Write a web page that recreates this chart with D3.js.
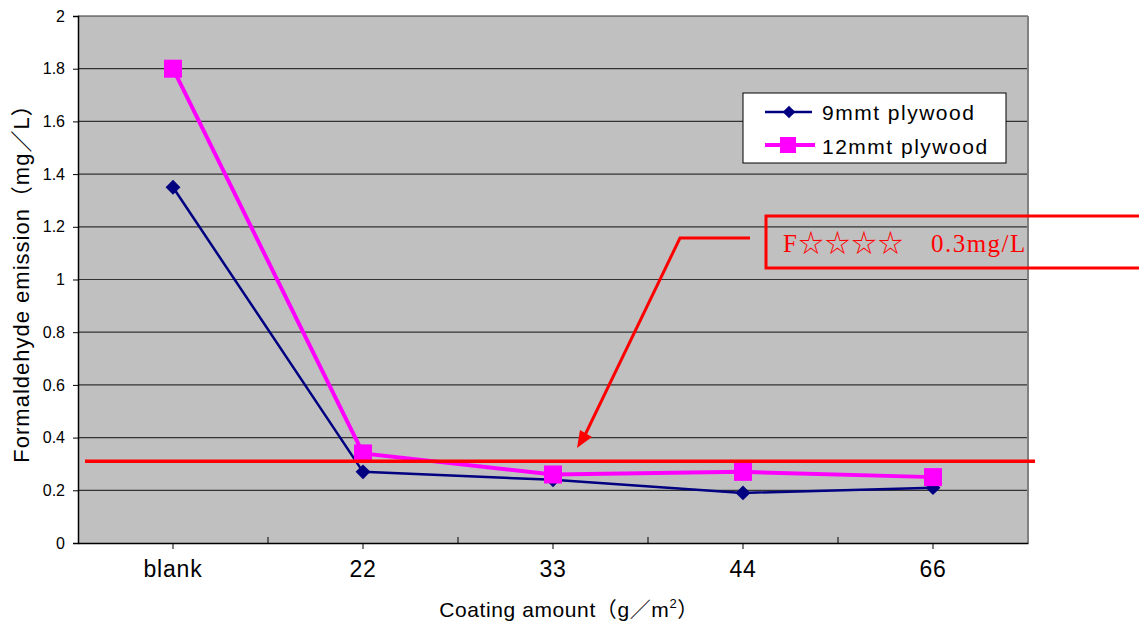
<!DOCTYPE html>
<html><head><meta charset="utf-8">
<script src="https://cdn.jsdelivr.net/npm/d3@7"></script>
<style>body{margin:0;background:#fff}svg{display:block}</style>
</head><body>
<svg id="c" width="1139" height="626"></svg>
<script>
const categories = ["blank","22","33","44","66"];
const series9 = [1.35,0.27,0.24,0.19,0.21];
const series12 = [1.80,0.34,0.26,0.27,0.25];
const yTicks = [0,0.2,0.4,0.6,0.8,1,1.2,1.4,1.6,1.8,2];
const limitValue = 0.31;
const seriesNames = ["9mmt plywood","12mmt plywood"];
const annotation = "F☆☆☆☆　0.3mg/L";

const svg = d3.select("#c");
const L=78,R=1028,T=16,B=543;
const x = d3.scaleBand().domain(categories).range([L,R]);
const y = d3.scaleLinear().domain([0,2]).range([B,T]);
const sans = "'Liberation Sans', Arial, 'Noto Sans CJK JP', sans-serif";

svg.append("rect").attr("x",L).attr("y",T).attr("width",R-L).attr("height",B-T).attr("fill","#c0c0c0");
svg.append("g").selectAll("line").data(yTicks.filter(d=>d>0)).join("line")
  .attr("x1",L).attr("x2",R).attr("y1",d=>y(d)).attr("y2",d=>y(d))
  .attr("stroke","#333").attr("stroke-width",1.2);
svg.append("line").attr("x1",R).attr("x2",R).attr("y1",T).attr("y2",B).attr("stroke","#808080").attr("stroke-width",2);

const ya = svg.append("g").attr("transform",`translate(${L},0)`)
  .call(d3.axisLeft(y).tickValues(yTicks).tickSize(5).tickFormat(d=>String(d)));
ya.select(".domain").attr("stroke","#000").attr("stroke-width",1.5);
ya.selectAll("text").attr("font-family",sans).attr("font-size",16).attr("fill","#000").attr("dx",-5);
const xa = svg.append("g").attr("transform",`translate(0,${B})`)
  .call(d3.axisBottom(x).tickSize(6).tickSizeOuter(0));
xa.select(".domain").attr("stroke","#000").attr("stroke-width",1.5);
xa.selectAll("text").attr("font-family",sans).attr("font-size",23).attr("letter-spacing",0.8).attr("fill","#000").attr("dy",25);
const bounds = categories.map(c=>x(c)).concat([R]).slice(1,-1);
svg.append("g").selectAll("line").data(bounds).join("line")
  .attr("x1",d=>d).attr("x2",d=>d).attr("y1",B).attr("y2",B-6).attr("stroke","#000");

svg.append("text").attr("transform","translate(29,278) rotate(-90)").attr("text-anchor","middle")
  .attr("font-family",sans).attr("font-size",22).attr("letter-spacing",1).text("Formaldehyde emission（mg／L）");
const xt = svg.append("text").attr("x",569).attr("y",617).attr("text-anchor","middle")
  .attr("font-family",sans).attr("font-size",21).attr("letter-spacing",0.6);
xt.append("tspan").text("Coating amount（g／m");
xt.append("tspan").attr("font-size",13).attr("dy",-9).text("2");
xt.append("tspan").attr("dy",9).text("）");

const cx = i => x(categories[i])+x.bandwidth()/2;
const line = d3.line().x((d,i)=>cx(i)).y(d=>y(d));
svg.append("path").datum(series9).attr("d",line).attr("fill","none").attr("stroke","#000080").attr("stroke-width",2.5);
svg.append("g").selectAll("path").data(series9).join("path")
  .attr("d",d3.symbol(d3.symbolSquare,110))
  .attr("transform",(d,i)=>`translate(${cx(i)},${y(d)}) rotate(45)`)
  .attr("fill","#000080");
svg.append("path").datum(series12).attr("d",line).attr("fill","none").attr("stroke","#ff00ff").attr("stroke-width",4);
svg.append("g").selectAll("rect").data(series12).join("rect")
  .attr("x",(d,i)=>cx(i)-9).attr("y",d=>y(d)-9)
  .attr("width",18).attr("height",18).attr("fill","#ff00ff");

svg.append("line").attr("x1",85).attr("x2",1035).attr("y1",y(limitValue)).attr("y2",y(limitValue))
  .attr("stroke","#ff0000").attr("stroke-width",3.5);

svg.append("polyline").attr("points","750,238 680,238 585,435").attr("fill","none").attr("stroke","#ff0000").attr("stroke-width",3);
svg.append("path").attr("d","M577,448 L580,430 L592,437 Z").attr("fill","#ff0000");
svg.append("rect").attr("x",766).attr("y",216).attr("width",400).attr("height",52).attr("fill","none").attr("stroke","#ff0000").attr("stroke-width",3);
svg.append("text").attr("x",783).attr("y",252).attr("fill","#ff0000")
  .attr("font-family","'Liberation Serif', 'Noto Sans CJK JP', serif").attr("font-size",25).attr("letter-spacing",1.5).text(annotation);

const lg = svg.append("g");
lg.append("rect").attr("x",743).attr("y",93).attr("width",263).attr("height",70).attr("fill","#fff").attr("stroke","#000").attr("stroke-width",1);
lg.append("line").attr("x1",765).attr("x2",812).attr("y1",112).attr("y2",112).attr("stroke","#000080").attr("stroke-width",2.5);
lg.append("path").attr("d",d3.symbol(d3.symbolSquare,80)).attr("transform","translate(789,112) rotate(45)").attr("fill","#000080");
lg.append("line").attr("x1",765).attr("x2",815).attr("y1",145).attr("y2",145).attr("stroke","#ff00ff").attr("stroke-width",4);
lg.append("rect").attr("x",780).attr("y",137).attr("width",16).attr("height",16).attr("fill","#ff00ff");
lg.append("text").attr("x",822).attr("y",120).attr("font-family",sans).attr("font-size",21).attr("letter-spacing",1.5).text(seriesNames[0]);
lg.append("text").attr("x",822).attr("y",154).attr("font-family",sans).attr("font-size",21).attr("letter-spacing",1.5).text(seriesNames[1]);
</script>
</body></html>
